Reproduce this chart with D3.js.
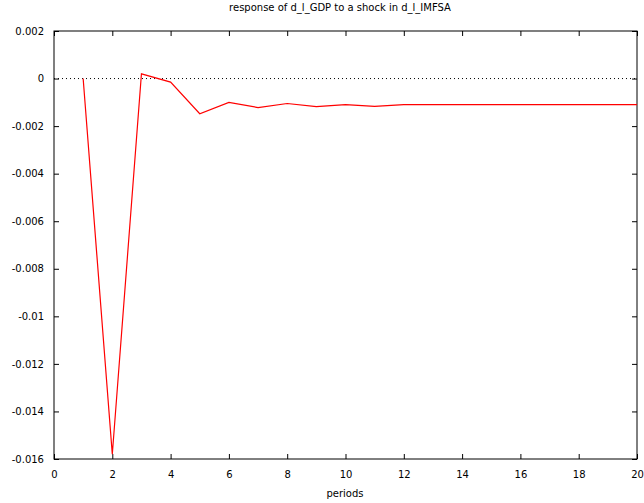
<!DOCTYPE html>
<html>
<head>
<meta charset="utf-8">
<script src="https://cdn.jsdelivr.net/npm/d3@7"></script>
<style>
  body { margin: 0; background: #fff; }
  text { font-family: "DejaVu Sans", sans-serif; font-size: 10px; fill: #000; }
</style>
</head>
<body>
<svg id="chart" width="644" height="503" viewBox="0 0 644 503"></svg>
<script>
// impulse response values, periods 1..20
const periods = d3.range(1, 21);
const response = [0, -0.0158, 0.0002, -0.00015, -0.00148, -0.00100, -0.00122, -0.00105,
    -0.00118, -0.00110, -0.00117, -0.00110, -0.00110, -0.00110, -0.00110, -0.00110,
    -0.00110, -0.00110, -0.00110, -0.00110];
const xTicks = d3.range(0, 21, 2);
const yTicks = [0.002, 0, -0.002, -0.004, -0.006, -0.008, -0.01, -0.012, -0.014, -0.016];

const svg = d3.select("#chart");
const plotLeft = 54, plotRight = 637, plotTop = 31, plotBottom = 459;

const x = d3.scaleLinear().domain([0, 20]).range([plotLeft, plotRight]);
const y = d3.scaleLinear().domain([-0.016, 0.002]).range([plotBottom, plotTop]);

const tickLen = 5;

// x ticks, bottom and top, inward
svg.append("g")
    .attr("transform", `translate(0,${plotBottom})`)
    .call(d3.axisBottom(x).tickValues(xTicks).tickSizeInner(-tickLen).tickSizeOuter(0).tickPadding(12).tickFormat(d3.format("d")))
    .call(g => g.select(".domain").remove());
svg.append("g")
    .attr("transform", `translate(0,${plotTop})`)
    .call(d3.axisTop(x).tickValues(xTicks).tickSizeInner(-tickLen).tickSizeOuter(0).tickFormat(""))
    .call(g => g.select(".domain").remove());

// y ticks, left and right
svg.append("g")
    .attr("transform", `translate(${plotLeft},0)`)
    .call(d3.axisLeft(y).tickValues(yTicks).tickSizeInner(-tickLen).tickSizeOuter(0).tickPadding(10)
        .tickFormat(d => d === 0 ? "0" : String(+d.toFixed(3))))
    .call(g => g.select(".domain").remove());
svg.append("g")
    .attr("transform", `translate(${plotRight},0)`)
    .call(d3.axisRight(y).tickValues(yTicks).tickSizeInner(-tickLen).tickSizeOuter(0).tickFormat(""))
    .call(g => g.select(".domain").remove());

svg.selectAll(".tick line").attr("stroke", "#000");
svg.selectAll(".tick text").style("font-family", "DejaVu Sans, sans-serif").style("font-size", "10px");

// frame
svg.append("rect")
    .attr("x", plotLeft).attr("y", plotTop)
    .attr("width", plotRight - plotLeft).attr("height", plotBottom - plotTop)
    .attr("fill", "none").attr("stroke", "#000").attr("stroke-width", 1);

// zero line
svg.append("line")
    .attr("x1", plotLeft).attr("x2", plotRight)
    .attr("y1", y(0)).attr("y2", y(0))
    .attr("stroke", "#000").attr("stroke-dasharray", "1,3");

// response line
const line = d3.line()
    .x((d, i) => x(periods[i]))
    .y(d => y(d));
svg.append("path")
    .datum(response)
    .attr("d", line)
    .attr("fill", "none")
    .attr("stroke", "#ff0000")
    .attr("stroke-width", 1.2);

// title and axis label
svg.append("text")
    .attr("x", 340).attr("y", 11)
    .attr("text-anchor", "middle")
    .text("response of d_l_GDP to a shock in d_l_IMFSA");
svg.append("text")
    .attr("x", 345).attr("y", 497)
    .attr("text-anchor", "middle")
    .text("periods");
</script>
</body>
</html>
